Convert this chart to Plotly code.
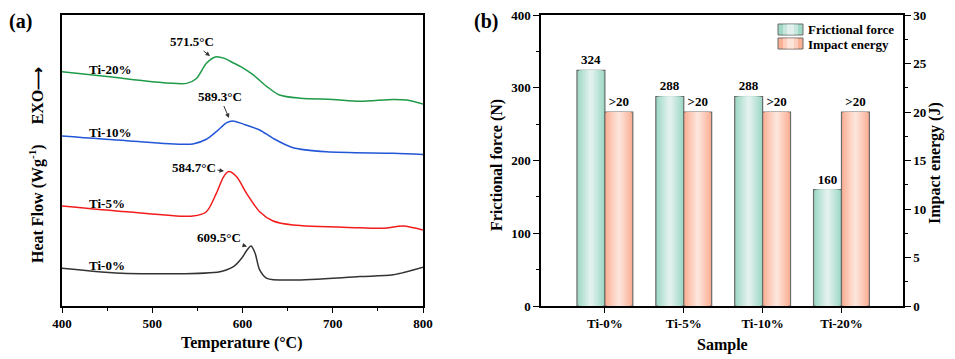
import plotly.graph_objects as go

# ---------------- data: DSC curves (panel a), heat flow in arbitrary units ----------------
t_ti20 = [400, 450, 500, 538, 549, 560, 570, 580, 590, 599, 612, 627, 641, 664, 700, 730, 767, 782, 800]
h_ti20 = [80.5, 78.9, 77.1, 76.5, 78.2, 83.4, 85.6, 85.1, 83.5, 82.1, 79.4, 75.4, 72.5, 71.4, 71.0, 70.4, 71.0, 70.8, 69.4]

t_ti10 = [400, 472, 545, 560, 571, 582.5, 589, 601, 619, 634, 656, 693, 767, 800]
h_ti10 = [58.4, 56.8, 55.7, 57.3, 59.9, 63.0, 63.6, 62.5, 60.5, 57.6, 54.4, 53.0, 52.5, 52.1]

t_ti5 = [400, 472, 545, 560, 571, 579, 584.7, 593.5, 604.5, 619, 634, 656, 730, 756, 778, 800]
h_ti5 = [34.4, 32.4, 30.9, 32.4, 38.7, 44.4, 46.2, 44.4, 38.7, 32.4, 29.2, 27.8, 26.9, 26.7, 27.5, 26.1]

t_ti0 = [400, 472, 575, 590, 599, 604.5, 609.5, 614, 619, 627, 656, 730, 767, 800]
h_ti0 = [13.0, 11.2, 11.8, 13.5, 16.4, 19.0, 20.6, 18.1, 12.4, 9.5, 8.9, 10.1, 10.7, 13.3]

curve_names = ["Ti-20%", "Ti-10%", "Ti-5%", "Ti-0%"]
peak_labels = ["571.5°C", "589.3°C", "584.7°C", "609.5°C"]
temp_ticks = [400, 500, 600, 700, 800]

# ---------------- data: bars (panel b) ----------------
samples = ["Ti-0%", "Ti-5%", "Ti-10%", "Ti-20%"]
frictional_force = [324, 288, 288, 160]
impact_energy = [20, 20, 20, 20]
force_labels = ["324", "288", "288", "160"]
impact_labels = [">20", ">20", ">20", ">20"]

W, H = 955, 359
FONT = "Liberation Serif"


def px(x):
    return x / W


def py(y):
    return 1 - y / H


fig = go.Figure()

# ---- panel (a) curves ----
colors_a = ["#1E9A48", "#2256D6", "#F21C1C", "#333333"]
for t, h, c in zip([t_ti20, t_ti10, t_ti5, t_ti0], [h_ti20, h_ti10, h_ti5, h_ti0], colors_a):
    fig.add_trace(go.Scatter(x=t, y=h, mode="lines", line=dict(color=c, width=1.5, shape="spline", smoothing=0.8),
                             xaxis="x", yaxis="y", showlegend=False, hoverinfo="skip"))

# ---- panel (b) gradient bars ----
xs = list(range(len(samples)))
bw = 0.354
N = 7


def mix(c1, c2, f):
    a = [int(c1[i:i + 2], 16) for i in (1, 3, 5)]
    b = [int(c2[i:i + 2], 16) for i in (1, 3, 5)]
    return "rgb(%d,%d,%d)" % tuple(round(a[k] + (b[k] - a[k]) * f) for k in range(3))


def gradient_bars(values, labels, center_off, edge, centre, yaxis):
    for i in range(N):
        w = bw * (1 - i / N)
        f = i / (N - 1)
        first = i == 0
        fig.add_trace(go.Bar(
            x=xs, y=values, width=w, offset=center_off - w / 2,
            marker=dict(color=mix(edge, centre, f),
                        line=dict(color="#6A6A6A" if first else "rgba(0,0,0,0)", width=1.2 if first else 0)),
            text=labels if first else None, textposition="outside" if first else "none",
            textfont=dict(family=FONT, size=13, color="black", weight="bold"),
            cliponaxis=False, xaxis="x2", yaxis=yaxis, showlegend=False, hoverinfo="skip"))


gradient_bars(frictional_force, force_labels, -bw / 2, "#9FD9C6", "#E2F1EE", "y2")
gradient_bars(impact_energy, impact_labels, bw / 2, "#FAB095", "#FDE4DB", "y3")

tickfont = dict(family=FONT, size=13, color="black", weight="bold")
common = dict(showline=True, linecolor="black", linewidth=1.5, tickfont=tickfont,
              showgrid=False, zeroline=False, automargin=False, tickcolor="black", tickwidth=1.2)

fig.update_layout(
    template="none",
    width=W, height=H, margin=dict(l=0, r=0, t=0, b=0, pad=0, autoexpand=False),
    paper_bgcolor="white", plot_bgcolor="white",
    font=dict(family=FONT, size=13, color="black", weight="bold"),
    barmode="overlay", showlegend=False,
    xaxis=dict(domain=[px(62), px(423)], range=[400, 800], anchor="y", tickvals=temp_ticks, mirror=True,
               ticks="outside", ticklen=5,
               minor=dict(dtick=50, ticks="outside", ticklen=3, tickcolor="black"), **common),
    yaxis=dict(domain=[py(306), py(15)], range=[0, 100], anchor="x", showticklabels=False, ticks="",
               mirror=True, **common),
    xaxis2=dict(domain=[px(541), px(903)], range=[-0.81, 3.78], anchor="y2", tickvals=xs, ticktext=samples,
                mirror=True, ticks="outside", ticklen=5, **common),
    yaxis2=dict(domain=[py(306), py(15)], range=[0, 400], anchor="x2", dtick=100,
                ticks="outside", ticklen=6,
                minor=dict(dtick=50, ticks="outside", ticklen=3, tickcolor="black"), **common),
    yaxis3=dict(overlaying="y2", side="right", range=[0, 30], anchor="x2", dtick=5,
                ticks="outside", ticklen=6,
                minor=dict(dtick=2.5, ticks="outside", ticklen=3, tickcolor="black"), **common),
)

ann = []


def text(x, y, s, size=13, angle=0, xanchor="center"):
    ann.append(dict(x=px(x), y=py(y), xref="paper", yref="paper", text=s, showarrow=False,
                    textangle=angle, font=dict(family=FONT, size=size, color="black", weight="bold"),
                    xanchor=xanchor, yanchor="middle"))


def labelled_arrow(s, tx, ty, hx, hy):
    # text centred at (tx, ty) px, arrow head at (hx, hy) px
    ann.append(dict(x=px(hx), y=py(hy), xref="paper", yref="paper", ax=tx - hx, ay=ty - hy,
                    text=s, showarrow=True, arrowhead=2, arrowsize=0.9, arrowwidth=1, arrowcolor="#333333",
                    font=dict(family=FONT, size=13, color="black", weight="bold")))


# panel labels
text(20, 21, "(a)", size=20)
text(486, 21, "(b)", size=20)

# curve labels
text(110, 70, curve_names[0])
text(110, 133, curve_names[1])
text(107, 203, curve_names[2])
text(107, 265, curve_names[3])

# peak labels + arrows
labelled_arrow(peak_labels[0], 192, 42, 210, 56)
labelled_arrow(peak_labels[1], 220, 97, 229, 118)
labelled_arrow(peak_labels[2], 194, 167, 224, 171)
labelled_arrow(peak_labels[3], 219, 238, 247, 246.5)

# axis titles
text(242, 343, "Temperature (°C)", size=16)
text(37, 165, "Heat Flow (Wg<sup>-1</sup>)     EXO⟶", size=16, angle=-90)
text(722, 345, "Sample", size=16)
text(497, 165, "Frictional force (N)", size=16, angle=-90)
text(935, 163, "Impact energy (J)", size=16, angle=-90)

# legend (drawn)
text(806, 30, "Frictional force", size=13, xanchor="left")
text(806, 44, "Impact energy", size=13, xanchor="left")
fig.update_layout(annotations=ann)

shapes = []
for (y0, edge, centre) in [(24, "#9FD9C6", "#E2F1EE"), (38, "#FAB095", "#FDE4DB")]:
    shapes.append(dict(type="rect", xref="paper", yref="paper", x0=px(778), x1=px(803), y0=py(y0 + 11), y1=py(y0),
                       fillcolor=edge, line=dict(color="#6A6A6A", width=1)))
    shapes.append(dict(type="rect", xref="paper", yref="paper", x0=px(783), x1=px(798), y0=py(y0 + 10.4), y1=py(y0 + 0.6),
                       fillcolor=mix(edge, centre, 0.6), line=dict(width=0)))
    shapes.append(dict(type="rect", xref="paper", yref="paper", x0=px(787), x1=px(794), y0=py(y0 + 10.4), y1=py(y0 + 0.6),
                       fillcolor=centre, line=dict(width=0)))
fig.update_layout(shapes=shapes)

fig.write_html("out.html", config={"displayModeBar": False},
               post_script="document.body.style.margin='0';document.body.style.overflow='hidden';")
